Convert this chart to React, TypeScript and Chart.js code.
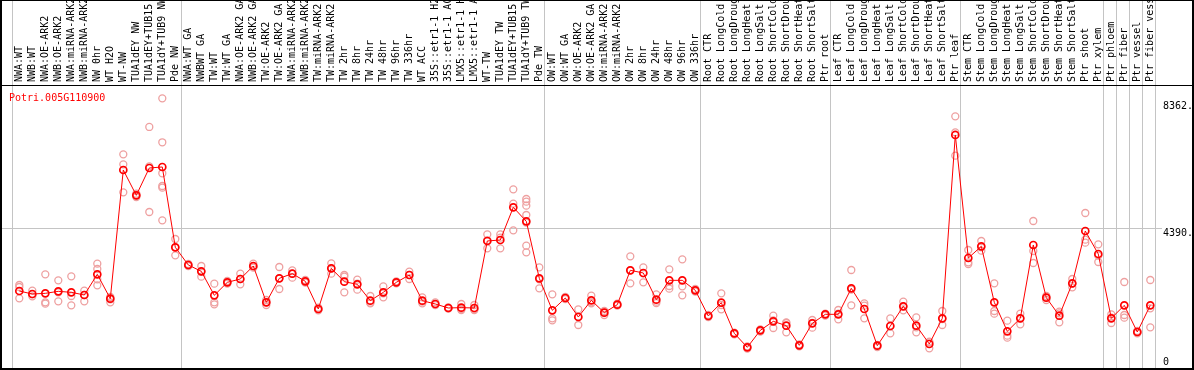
import React, { useEffect, useRef } from 'react';
import { Chart, registerables } from 'chart.js';

Chart.register(...registerables);

const W = 1194;
const H = 370;
const FONT = 'DejaVu Sans Mono';

const geneId = 'Potri.005G110900';

const categories = [
  'NWA:WT', 'NWB:WT', 'NWA:OE-ARK2', 'NWB:OE-ARK2', 'NWA:miRNA-ARK2', 'NWB:miRNA-ARK2', 'NW 0hr', 'WT H2O', 'WT-NW',
  'TUA1dEY NW', 'TUA1dEY+TUB15 NW', 'TUA1dY+TUB9 NW', 'Pde NW',
  'NWA:WT GA', 'NWBWT GA', 'TW:WT', 'TW:WT GA', 'NWA:OE-ARK2 GA', 'NWB:OE-ARK2 GA', 'TW:OE-ARK2', 'TW:OE-ARK2 GA',
  'NWA:miRNA-ARK2', 'NWB:miRNA-ARK2', 'TW:miRNA-ARK2', 'TW:miRNA-ARK2', 'TW 2hr', 'TW 8hr', 'TW 24hr', 'TW 48hr', 'TW 96hr',
  'TW 336hr', 'WT ACC', '35S::etr1-1 H2O', '35S::etr1-1 ACC', 'LMX5::etr1-1 H2O', 'LMX5::etr1-1 ACC', 'WT-TW', 'TUA1dEY TW',
  'TUA1dEY+TUB15 TW', 'TUA1dY+TUB9 TW', 'Pde TW',
  'OW:WT', 'OW:WT GA', 'OW:OE-ARK2', 'OW:OE-ARK2 GA', 'OW:miRNA-ARK2', 'OW:miRNA-ARK2', 'OW 2hr', 'OW 8hr', 'OW 24hr',
  'OW 48hr', 'OW 96hr', 'OW 336hr',
  'Root CTR', 'Root LongCold', 'Root LongDrought', 'Root LongHeat', 'Root LongSalt', 'Root ShortCold', 'Root ShortDrought',
  'Root ShortHeat', 'Root ShortSalt', 'Ptr root',
  'Leaf CTR', 'Leaf LongCold', 'Leaf LongDrought', 'Leaf LongHeat', 'Leaf LongSalt', 'Leaf ShortCold', 'Leaf ShortDrought',
  'Leaf ShortHeat', 'Leaf ShortSalt', 'Ptr leaf',
  'Stem CTR', 'Stem LongCold', 'Stem LongDrought', 'Stem LongHeat', 'Stem LongSalt', 'Stem ShortCold', 'Stem ShortDrought',
  'Stem ShortHeat', 'Stem ShortSalt', 'Ptr shoot',
  'Ptr xylem', 'Ptr phloem', 'Ptr fiber', 'Ptr vessel', 'Ptr fiber vessel',
];

const means = [
  2414, 2320, 2341, 2404, 2373, 2289, 2937, 2174, 6209, 5415,
  6272, 6303, 3784, 3230, 3031, 2279, 2686, 2791, 3199, 2059,
  2812, 2958, 2718, 1850, 3125, 2707, 2624, 2111, 2373, 2686,
  2916, 2111, 2007, 1882, 1892, 1882, 3983, 4014, 5038, 4599,
  2812, 1808, 2195, 1599, 2122, 1735, 1986, 3063, 2979, 2143,
  2749, 2749, 2436, 1631, 2049, 1087, 648, 1181, 1463, 1328,
  711, 1401, 1683, 1683, 2498, 1850, 700, 1317, 1934, 1328,
  753, 1557, 7307, 3449, 3815, 2059, 1150, 1557, 3857, 2206,
  1641, 2655, 4296, 3575, 1557, 1965, 1129, 1965,
];

const replicates = [
  [2603, 2540, 2185], [2425, 2310, 2247], [2937, 2059, 2017], [2749, 2373, 2091], [2875, 2258, 1965],
  [2425, 2289, 2091], [3272, 3105, 2780, 2592], [2226, 2153, 2059], [6700, 6387, 5509], [5467, 5415, 5362],
  [7558, 6324, 4892], [8456, 7077, 6105, 5707, 5655, 4631], [4045, 3784, 3533], [3261, 3230, 3199], [3199, 3021, 2864],
  [2645, 2059, 1997], [2728, 2686, 2645], [2958, 2791, 2624], [3272, 3178, 3146], [2132, 2059, 1976],
  [3167, 2812, 2477], [3063, 2958, 2833], [2760, 2707, 2676], [1892, 1850, 1808], [3282, 3125, 2958],
  [2916, 2864, 2373], [2770, 2645, 2456], [2258, 2049, 2028], [2561, 2341, 2216], [2718, 2686, 2655],
  [3021, 2916, 2791], [2216, 2080, 2028], [2059, 1997, 1976], [1902, 1882, 1861], [2007, 1850, 1819],
  [1976, 1840, 1819], [4192, 4004, 3753], [4192, 4087, 3753], [5603, 5153, 4317], [5300, 5216, 5091, 4798, 4558, 3836, 3627],
  [3157, 2780, 2498], [2310, 1557, 1495], [2226, 2185, 2164], [1840, 1610, 1348], [2268, 2059, 2028],
  [1787, 1735, 1662], [2017, 1986, 1955], [3502, 3063, 2655], [3157, 2969, 2686], [2310, 2080, 2038],
  [3094, 2571, 2488], [3408, 2561, 2279], [2477, 2436, 2394], [1662, 1631, 1599], [2341, 1976, 1840],
  [1108, 1087, 1056], [679, 648, 606], [1213, 1181, 1139], [1641, 1495, 1254], [1432, 1411, 1118],
  [742, 711, 679], [1505, 1411, 1265], [1704, 1683, 1641], [1819, 1704, 1526], [3073, 2456, 1965],
  [2028, 1955, 1557], [721, 700, 659], [1557, 1317, 1087], [2080, 1934, 1808], [1589, 1275, 1118],
  [826, 805, 617], [1787, 1537, 1348], [7892, 7390, 6659], [3700, 3314, 3261], [3983, 3784, 3679],
  [2655, 1787, 1704], [1484, 1014, 951], [1704, 1557, 1369], [4610, 3669, 3293], [2258, 2206, 2132],
  [1767, 1714, 1432], [2791, 2645, 2530], [4861, 4024, 3930], [3878, 3523, 3324], [1683, 1578, 1411],
  [2697, 1662, 1578], [1160, 1129, 1087], [2760, 1871, 1275],
];

// group separators sit after these category numbers
const groupBoundaries = [0, 13, 41, 53, 63, 73, 84, 85, 86, 87, 88];
const yAxisMarks = [8362, 4390, 0];
const gridValues = [4390];
const yMax = 8874;
const xMin = -0.331;
const xMax = 91.208;

export default function App() {
  const ref = useRef<HTMLCanvasElement>(null);

  useEffect(() => {
    const canvas = ref.current;
    if (!canvas) return;

    const meanPoints = means.map((v, i) => ({ x: i + 1, y: v }));
    const repPoints: { x: number; y: number }[] = [];
    replicates.forEach((arr, i) => arr.forEach((v) => repPoints.push({ x: i + 1, y: v })));

    const decor = {
      id: 'decor',
      beforeDraw(chart: any) {
        const ctx = chart.ctx;
        ctx.save();
        ctx.fillStyle = '#ffffff';
        ctx.fillRect(0, 0, W, H);
        ctx.restore();
      },
      beforeDatasetsDraw(chart: any) {
        const { ctx, chartArea } = chart;
        const xs = chart.scales.x;
        const ys = chart.scales.y;
        ctx.save();
        ctx.strokeStyle = '#c4c4c4';
        ctx.lineWidth = 1;
        for (const b of groupBoundaries) {
          const px = Math.round(xs.getPixelForValue(b + 0.4)) + 0.5;
          ctx.beginPath();
          ctx.moveTo(px, 0);
          ctx.lineTo(px, chartArea.bottom);
          ctx.stroke();
        }
        for (const g of gridValues) {
          const py = Math.round(ys.getPixelForValue(g)) + 0.5;
          ctx.beginPath();
          ctx.moveTo(chartArea.left, py);
          ctx.lineTo(1162, py);
          ctx.stroke();
        }
        ctx.restore();
      },
      afterDraw(chart: any) {
        const { ctx, chartArea } = chart;
        const ys = chart.scales.y;
        ctx.save();
        ctx.fillStyle = '#000000';
        ctx.fillRect(0, 0, W, 1);
        ctx.fillRect(0, 85, W, 1);
        ctx.fillRect(0, 368, W, 2);
        ctx.fillRect(0, 0, 2, H);
        ctx.fillRect(W - 2, 0, 2, H);

        ctx.font = `10px "${FONT}"`;
        ctx.fillStyle = '#ff0000';
        ctx.textAlign = 'left';
        ctx.textBaseline = 'alphabetic';
        ctx.fillText(geneId, 9, 101);

        ctx.fillStyle = '#000000';
        for (const v of yAxisMarks) {
          const py = ys.getPixelForValue(v);
          const text = v === 0 ? '0' : `${v}.`;
          if (py > chartArea.bottom - 12) {
            ctx.textBaseline = 'bottom';
            ctx.fillText(text, 1163, chartArea.bottom - 1);
          } else {
            ctx.textBaseline = 'top';
            ctx.fillText(text, 1163, py);
          }
        }
        ctx.restore();
      },
    };

    const chart = new Chart(canvas, {
      type: 'line',
      data: {
        datasets: [
          {
            type: 'line',
            label: 'mean',
            data: meanPoints,
            borderColor: '#ff0000',
            borderWidth: 1,
            pointStyle: 'circle',
            pointRadius: 3.5,
            pointBorderWidth: 1.7,
            pointBorderColor: '#ff0000',
            pointBackgroundColor: 'rgba(255,255,255,0)',
            order: 0,
          },
          {
            type: 'scatter',
            label: 'replicates',
            data: repPoints,
            showLine: false,
            pointStyle: 'circle',
            pointRadius: 3.5,
            pointBorderWidth: 1.3,
            pointBorderColor: '#eea0a0',
            pointBackgroundColor: 'rgba(255,255,255,0)',
            order: 1,
          },
        ],
      } as any,
      options: {
        responsive: false,
        animation: false,
        events: [],
        layout: { autoPadding: false, padding: { left: 2, right: 2, top: 0, bottom: 2 } },
        plugins: { legend: { display: false }, tooltip: { enabled: false } },
        scales: {
          x: {
            type: 'linear',
            position: 'top',
            min: xMin,
            max: xMax,
            grid: { display: false, drawTicks: false },
            border: { display: false },
            afterBuildTicks: (s: any) => {
              s.ticks = categories.map((_, i) => ({ value: i + 1 }));
            },
            afterFit: (s: any) => {
              s.height = 85;
              s.paddingLeft = 0;
              s.paddingRight = 0;
            },
            ticks: {
              autoSkip: false,
              maxRotation: 90,
              minRotation: 90,
              padding: 3,
              labelOffset: 12,
              color: '#000000',
              font: { family: FONT, size: 10 },
              callback: (v: any) => categories[Math.round(v) - 1] ?? '',
            },
          },
          y: {
            display: false,
            min: 0,
            max: yMax,
          },
        },
      } as any,
      plugins: [decor],
    });

    return () => chart.destroy();
  }, []);

  return (
    <div style={{ position: 'fixed', left: 0, top: 0, width: W, height: H, background: '#fff' }}>
      <canvas ref={ref} width={W} height={H} style={{ display: 'block', width: W, height: H }} />
    </div>
  );
}
